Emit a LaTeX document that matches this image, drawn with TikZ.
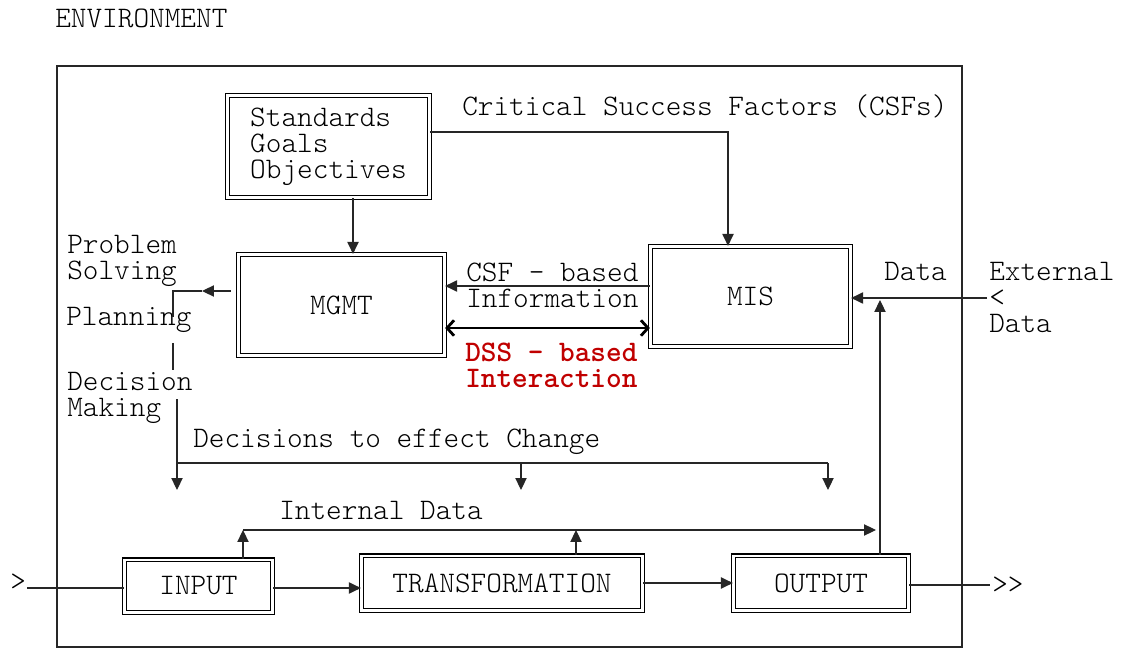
\documentclass[tikz,border=0pt]{standalone}
\usepackage{fontspec}
\setmainfont{lmmonolt10-regular.otf}[BoldFont=lmmonolt10-bold.otf,Ligatures=NoCommon]
\usepackage{tikz}
\usetikzlibrary{positioning,calc,arrows.meta}
\definecolor{dssred}{RGB}{192,0,0}
\newcommand*{\dss}[1]{\textbf{\color{dssred}#1}}

\begin{document}
\begin{tikzpicture}[x=0.025cm,y=-0.025cm,
  font=\fontsize{21.2}{18.5}\selectfont,
  dbox/.style={draw,line width=1.1pt,double=white,double distance=1.7pt,
               inner sep=0pt,align=left},
  lbl/.style={inner sep=0pt,anchor=west,align=left},
  arr/.style={draw=black!85,line width=0.8pt,-{Triangle[length=8.5pt,width=8pt]}},
  ln/.style={draw=black!85,line width=0.8pt}]
\useasboundingbox (0,0) rectangle (1123,648);
% The environment frame
\node[lbl] (env) at (55,18.5) {ENVIRONMENT};
\draw[line width=1pt,black!85] (57,66) rectangle (962,647);
% The boxes
\node[dbox,minimum width=5.04cm,minimum height=2.54cm] (sgo) at (328.5,146.5)
  {Standards\\Goals\\Objectives};
\node[dbox,minimum width=5.14cm,minimum height=2.515cm] (mgmt) at (341.5,305) {MGMT};
\node[dbox,minimum width=4.99cm,minimum height=2.49cm] (mis) at (750.5,296.5) {MIS};
\node[dbox,minimum width=3.69cm,minimum height=1.315cm] (inp) at (198.5,586) {INPUT};
\node[dbox,minimum width=7.015cm,minimum height=1.365cm] (trans) at (502,583) {TRANSFORMATION};
\node[dbox,minimum width=4.365cm,minimum height=1.365cm] (outp) at (821,583) {OUTPUT};
% Labels
\node[lbl] (csfs) at (462,106) {Critical Success Factors (CSFs)};
\node[lbl] (prob) at (67,261) {Problem\\Solving};
\node[lbl] (plan) at (66,320) {Planning};
\node[lbl] (dec) at (67,398) {Decision\\Making};
\node[lbl] (csfinfo) at (466,285) {CSF - based\\Information};
\node[lbl] (dssint) at (465,365) {\dss{DSS - based}\\\dss{Interaction}};
\node[lbl] (dat) at (884,271) {Data};
\node[lbl] (ext) at (989,297) {External\\<\\Data};
\node[lbl] (chg) at (193,442) {Decisions to effect Change};
\node[lbl] (intd) at (279,510) {Internal Data};
\node[lbl] (lin) at (10,582) {>};
\node[lbl] (rout) at (992,585) {>{}>};
% Free ends of the connectors
\coordinate (csf) at (728,132);
\coordinate (sm) at (353,0);
\coordinate (ci) at (0,286);
\coordinate (di) at (0,328);
\coordinate (pl) at (202,291);
\coordinate (pk) at (173,291);
\coordinate (dl) at (177,463);
\coordinate (dm) at (521,463);
\coordinate (dr) at (828,463);
\coordinate (ed) at (987,298);
\coordinate (up) at (880,300);
\coordinate (ia) at (243,530);
\coordinate (ib) at (876,530);
\coordinate (ta) at (576,530);
\coordinate (ein) at (27,588);
\coordinate (eout) at (990,585);
% Top part
\draw[arr] (sgo.east |- csf) -- (csf) -- (mis.north -| csf);
\draw[arr] (sgo.south -| sm) -- (mgmt.north -| sm);
\draw[arr] (mis.west |- ci) -- (mgmt.east |- ci);
\draw[line width=2pt,{Straight Barb[length=5pt,width=11pt]}-{Straight Barb[length=5pt,width=11pt]}]
  (mgmt.east |- di) -- (mis.west |- di);
\draw[arr] (ed) -- (mis.east |- ed);
\draw[arr] (outp.north -| up) -- (up);
% Left side: management to decisions
\draw[arr] ($(mgmt.west |- pl)+(-7,0)$) -- (pl);
\draw[ln] (pl) -- (pk) -- ++(0,26);
\draw[ln] (173,343) -- (173,370);
\draw[arr] (177,399) -- (177,490);
\draw[ln] (dl) -- (dr);
\draw[arr] (dr) -- ++(0,27);
\draw[arr] (dm) -- ++(0,27);
% Bottom part
\draw[arr] (inp.north -| ia) -- (ia);
\draw[arr] (ia) -- (ib);
\draw[arr] (trans.north -| ta) -- (ta);
\draw[ln] (ein) -- (inp.west |- ein);
\draw[arr] (inp.east |- ein) -- (trans.west |- ein);
\draw[arr] (trans.east) -- (outp.west);
\draw[ln] (outp.east |- eout) -- (eout);
\end{tikzpicture}
\end{document}
